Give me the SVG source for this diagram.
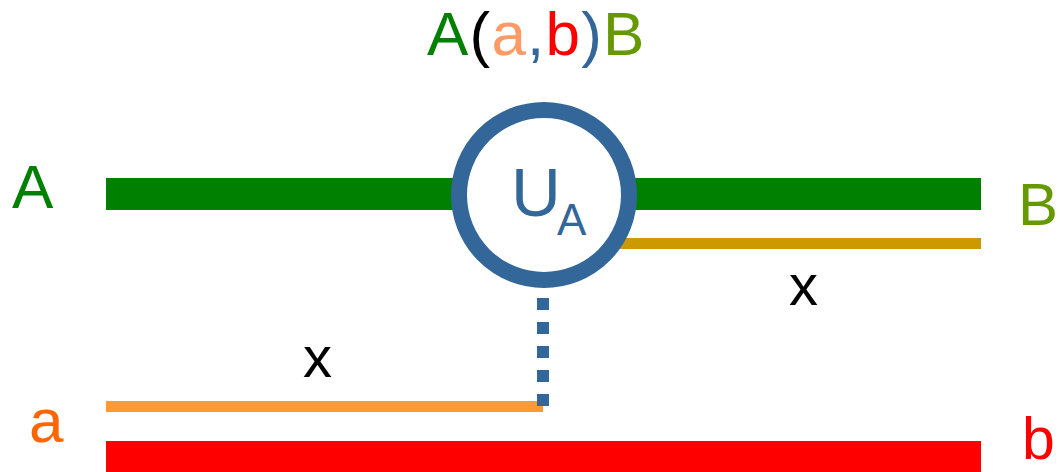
<svg xmlns="http://www.w3.org/2000/svg" width="1060" height="472" viewBox="0 0 1060 472">
<style>
text{font-family:"Liberation Sans",Arial,sans-serif}
.lbl{font-size:62px}
.x{font-size:58px;fill:#000}
</style>
<rect width="1060" height="472" fill="#fff"/>
<g id="connectors">
<rect x="106" y="178" width="875" height="32" fill="#008000"/>
<rect x="600" y="238" width="381" height="11" fill="#CC9900"/>
<rect x="106" y="401" width="437" height="11" fill="#FF9933"/>
<rect x="106" y="441" width="875" height="31" fill="#FF0000"/>
<line x1="543" y1="298" x2="543" y2="408" stroke="#336699" stroke-width="12" stroke-dasharray="12 12"/>
</g>
<g id="node-U">
<circle cx="544" cy="195" r="85" fill="#fff" stroke="#336699" stroke-width="16"/>
<text x="511" y="216" font-size="69" fill="#336699">U</text>
<text x="557" y="235" font-size="44" fill="#336699">A</text>
</g>
<g id="title">
<text x="427" y="55" font-size="62" letter-spacing="1.2"><tspan fill="#008000">A</tspan><tspan fill="#000">(</tspan><tspan fill="#FF9966">a</tspan><tspan fill="#336699">,</tspan><tspan fill="#FF0000">b</tspan><tspan fill="#336699">)</tspan><tspan fill="#669900">B</tspan></text>
</g>
<g id="label-A"><text class="lbl" x="12" y="208" fill="#008000">A</text></g>
<g id="label-B"><text x="1018" y="225" font-size="60" fill="#669900">B</text></g>
<g id="label-a"><text class="lbl" x="29" y="442" fill="#FF6600">a</text></g>
<g id="label-b"><text x="1022" y="459" font-size="59" fill="#FF0000">b</text></g>
<g id="label-x1"><text class="x" x="303" y="377">x</text></g>
<g id="label-x2"><text class="x" x="789" y="305">x</text></g>
</svg>
